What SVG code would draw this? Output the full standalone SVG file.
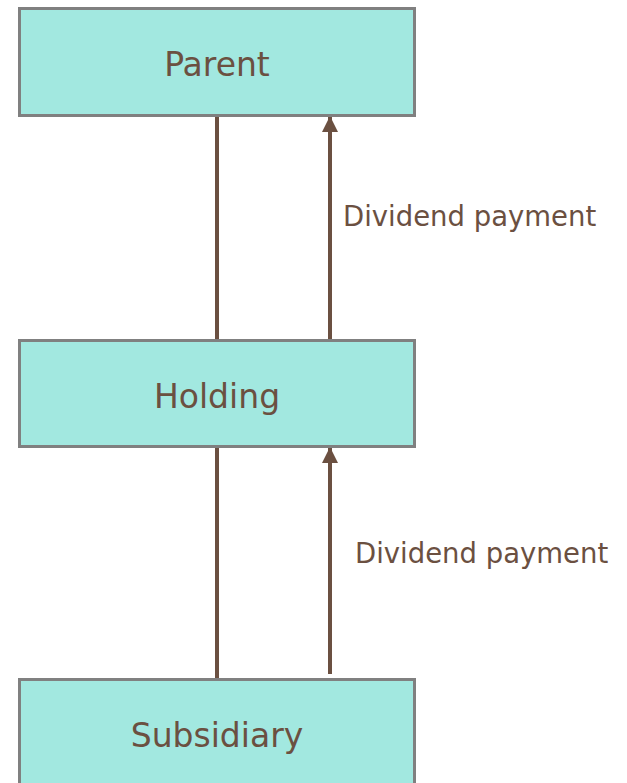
<svg xmlns="http://www.w3.org/2000/svg" width="627" height="783" viewBox="0 0 627 783">
<style>
.box{fill:#a2e8e0;stroke:#808080;stroke-width:3}
.lbl{font-family:"DejaVu Sans",Verdana,sans-serif;font-size:33px;fill:#6b5041;text-anchor:middle}
.elbl{font-family:"DejaVu Sans",Verdana,sans-serif;font-size:27.5px;fill:#6b5041}
.ln{stroke:#6b5041;stroke-width:4;fill:none}
</style>
<defs>
<marker id="ah" markerUnits="userSpaceOnUse" markerWidth="16" markerHeight="16" viewBox="0 0 16 16" refX="15" refY="8" orient="auto">
<path d="M0,0 L16,8 L0,16 Z" fill="#6b5041"/>
</marker>
</defs>
<g id="connectors">
<line class="ln" x1="217" y1="117" x2="217" y2="340"/>
<line class="ln" x1="330" y1="340" x2="330" y2="117" marker-end="url(#ah)"/>
<text class="elbl" x="343" y="226">Dividend payment</text>
<line class="ln" x1="217" y1="448" x2="217" y2="678"/>
<line class="ln" x1="330" y1="674" x2="330" y2="448" marker-end="url(#ah)"/>
<text class="elbl" x="355" y="563">Dividend payment</text>
</g>
<g id="parent">
<rect class="box" x="19.5" y="8.5" width="395" height="107"/>
<text class="lbl" x="217" y="76">Parent</text>
</g>
<g id="holding">
<rect class="box" x="19.5" y="340.5" width="395" height="106"/>
<text class="lbl" x="217" y="408">Holding</text>
</g>
<g id="subsidiary">
<rect class="box" x="19.5" y="679.5" width="395" height="110"/>
<text class="lbl" x="217" y="747">Subsidiary</text>
</g>
</svg>
